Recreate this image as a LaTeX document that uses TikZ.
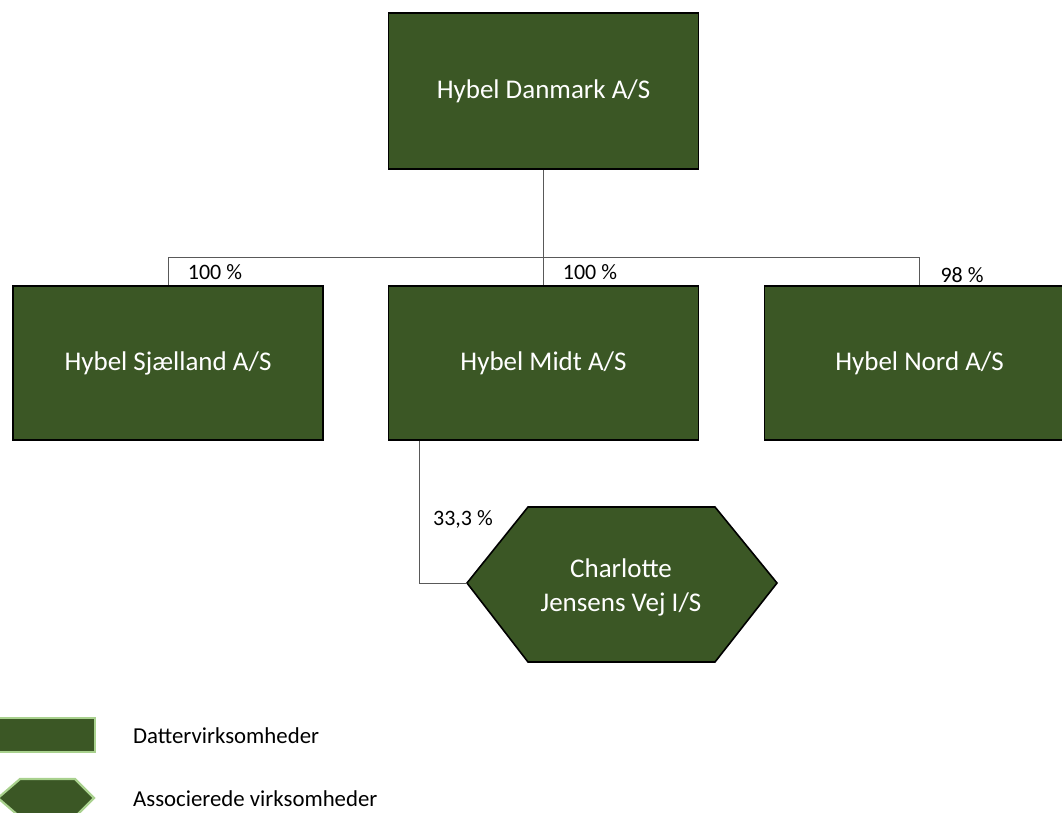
\documentclass[tikz,border=0pt]{standalone}
\usepackage{fontspec}
\setmainfont{Carlito}
\definecolor{boxgreen}{HTML}{3B5725}
\definecolor{legborder}{HTML}{A9D18E}
\begin{document}
\begin{tikzpicture}[x=1pt,y=-1pt,
  entity/.style={draw=black, line width=1.6pt, fill=boxgreen, text=white, font=\fontsize{27}{32}\selectfont, minimum width=310pt, minimum height=154pt, inner sep=0pt, align=center},
  conn/.style={draw=black!65, line width=0.9pt},
  pct/.style={font=\fontsize{22}{26}\selectfont, inner sep=0pt, anchor=center},
  legtext/.style={font=\fontsize{22.8}{27}\selectfont, inner sep=0pt, anchor=west}]
\useasboundingbox (0,0) rectangle (1062,812);
\clip (0,0) rectangle (1062,812);
% nodes
\node[entity, minimum height=156pt] (top) at (543.5,91) {Hybel Danmark A/S};
\node[entity] (sj) at (168,363) {Hybel Sjælland A/S};
\node[entity] (midt) at (543.5,363) {Hybel Midt A/S};
\node[entity] (nord) at (919.5,363) {Hybel Nord A/S};
% hexagon
\coordinate (cjL) at (467,583);
\coordinate (cjR) at (777,583);
\filldraw[fill=boxgreen, draw=black, line width=1.6pt]
  (cjL) -- (528,507) -- (715,507) -- (cjR) -- (715,662) -- (528,662) -- cycle;
\node[text=white, font=\fontsize{27}{34}\selectfont, align=center] (cj) at (621,587) {Charlotte\\Jensens Vej I/S};
% connectors
\coordinate (bus) at (543.5,257);
\draw[conn] (top.south) -- (bus);
\draw[conn] (bus) -| (sj.north);
\draw[conn] (bus) -| (nord.north);
\draw[conn] (bus) -- (midt.north);
\draw[conn] ([xshift=32pt]midt.south west) |- (cjL);
% labels
\node[pct] (l1) at (215,272) {100 \%};
\node[pct] (l2) at (590,272) {100 \%};
\node[pct] (l3) at (962,275) {98 \%};
\node[pct] (l4) at (463,519) {33,3 \%};
% legend
\node[draw=legborder, line width=2.2pt, fill=boxgreen, minimum width=96pt, minimum height=34pt, inner sep=0pt] (legrect) at (47,735) {};
\filldraw[fill=boxgreen, draw=legborder, line width=2.2pt]
  (-2,798) -- (20,779) -- (75,779) -- (94,798) -- (75,817) -- (20,817) -- cycle;
\node[legtext] (lt1) at (133,736) {Dattervirksomheder};
\node[legtext] (lt2) at (133,799) {Associerede virksomheder};
\end{tikzpicture}
\end{document}
